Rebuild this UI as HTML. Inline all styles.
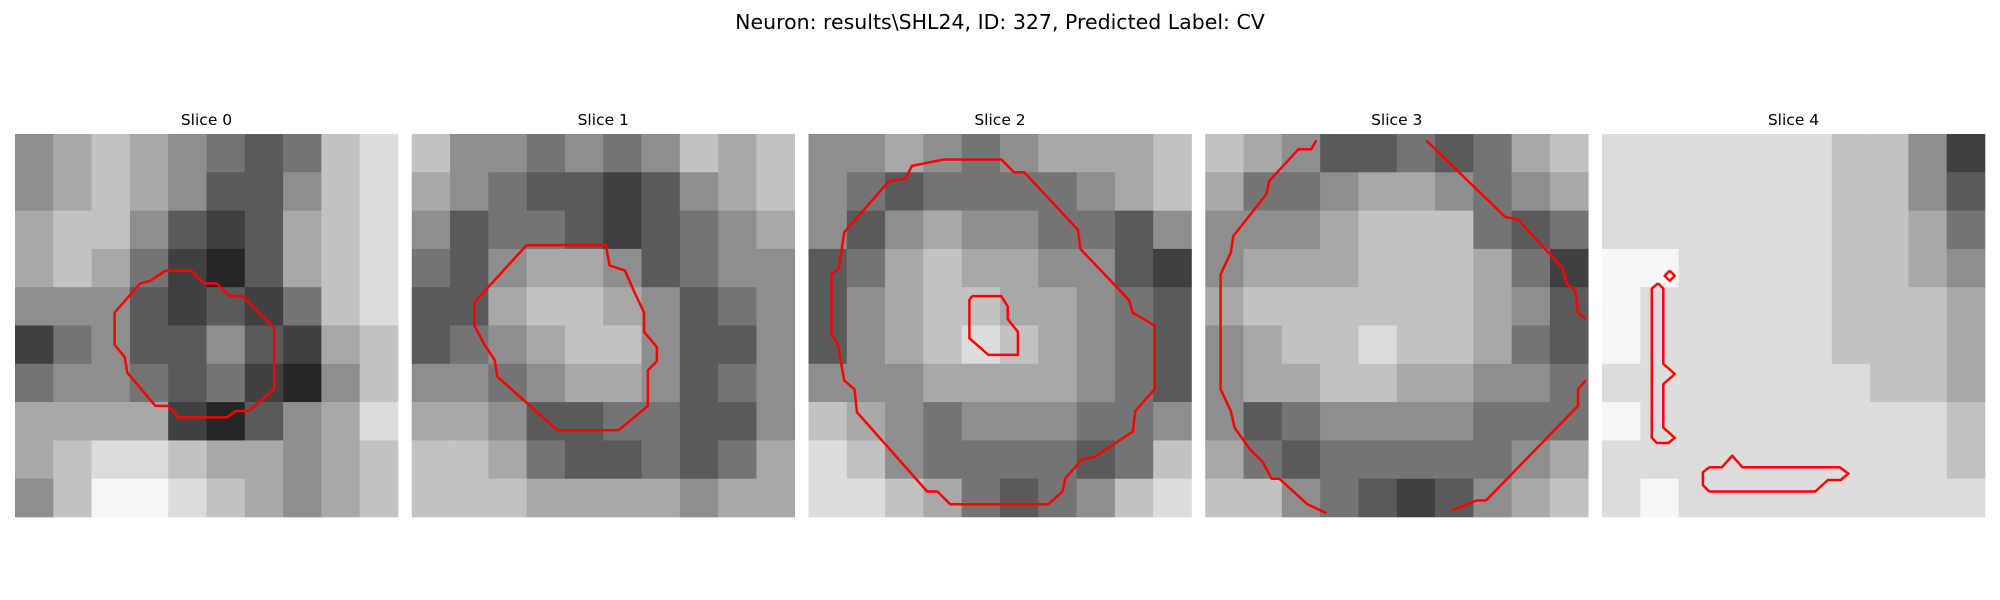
<!DOCTYPE html>
<html><head><meta charset="utf-8"><style>
html,body{margin:0;padding:0;background:#fff;}
svg{display:block;font-family:"DejaVu Sans","Liberation Sans",sans-serif;}
</style></head><body>
<svg id="chart" width="2000" height="600" viewBox="0 0 2000 600">
<text x="1000" y="29" text-anchor="middle" font-size="20.5" fill="#000">Neuron: results\SHL24, ID: 327, Predicted Label: CV</text>
</svg>
<script>
const sliceTitles = ["Slice 0","Slice 1","Slice 2","Slice 3","Slice 4"];
// brightness grids (0 dark - 9 light), 10x10 per slice
const slice0 = ["5676543478","5676533578","6775323678","6764213678","5553232478","2453353267","4554342157","6666213568","6788766567","5799876567"];
const slice1 = ["7554545767","6543323567","5344323456","4356653455","3367765345","3456775335","5545665345","6653344335","7764334346","7776666566"];
const slice2 = ["5565456667","5434444567","5356554435","3467665532","3567766543","3567876543","5556666543","7654555445","8754444347","8876434578"];
const slice3 = ["7653343467","6445665456","5556777434","5666777642","6777777653","5677877643","5667766554","5345555444","6434444456","7754323567"];
const slice4 = ["8888887752","8888887753","8888887764","9988887765","9888887776","9888887776","8888888776","9888888887","8888888887","8988888888"];
const grids = [slice0, slice1, slice2, slice3, slice4];
// contours in cell units (0..30), per slice
const contours0 = [[[11.8,10.7],[13.8,10.7],[14.8,11.7],[15.8,11.7],[16.8,12.7],[17.8,12.7],[20.3,15.2],[20.3,20],[18.3,21.7],[17.3,21.7],[16.6,22.2],[12.8,22.2],[12,21.3],[11,21.3],[8.8,18.7],[8.6,17.5],[7.8,16.5],[7.8,14],[9.8,11.7],[10.6,11.5],[11.8,10.7]]];
const contours1 = [[[9,8.7],[15.2,8.7],[15.5,10.3],[16.7,10.7],[17.4,12.3],[18.2,14],[18.2,15.5],[19.2,16.7],[19.2,17.8],[18.5,18.5],[18.5,21.3],[16.2,23.2],[11.4,23.2],[6.7,19],[6.5,17.7],[5.7,16.5],[4.9,15],[4.9,13.2],[9,8.7]]];
const contours2 = [[[10.6,2],[15.1,2],[16.1,3],[16.9,3],[21.1,7.5],[21.3,9],[25.1,13],[25.4,14],[27.1,15],[27.1,20],[25.6,21.7],[25.4,23.3],[22.4,25.3],[21.4,25.5],[20.1,27],[19.9,28],[18.8,29],[11.1,29],[10.1,28],[9.3,28],[3.8,21.8],[3.6,20],[2.8,19.3],[2.3,16.5],[1.8,15.7],[1.8,11],[2.4,10.5],[2.8,7.7],[6.3,3.7],[7.6,3.5],[8.1,2.5],[10.6,2]],
 [[12.8,12.7],[15.1,12.7],[15.6,13.5],[15.6,14.5],[16.4,15.5],[16.4,17.3],[14.1,17.3],[12.6,16],[12.6,13],[12.8,12.7]]];
const contours3 = [[[8.7,0.5],[8.3,1.2],[7.3,1.2],[5,3.7],[4.8,4.7],[2.2,8],[2,9.3],[1.2,11],[1.2,20],[2,21.7],[2.3,23],[3.5,24.7],[4.5,25.7],[5.2,27],[5.8,27],[8,29],[9.5,29.7]],
 [[17.3,0.5],[23.5,6.5],[24.5,6.7],[28,10.5],[28.3,11.7],[29,12.3],[29.2,14],[29.8,14.5]],
 [[29.8,19.3],[29.2,20],[29.2,21.3],[22,28.7],[21.3,28.7],[19.3,29.5]]];
const contours4 = [[[5.3,10.7],[5.7,11.1],[5.3,11.5],[4.9,11.1],[5.3,10.7]],
 [[4.4,11.7],[4.8,12.1],[4.8,18],[5.7,18.8],[4.8,19.6],[4.8,23],[5.7,23.8],[5.2,24.2],[4.3,24.2],[3.9,23.8],[3.9,12.1],[4.4,11.7]],
 [[8.4,26.1],[9.4,26.1],[10.2,25.2],[11,26.1],[18.6,26.1],[19.3,26.6],[18.7,27.1],[17.7,27.1],[16.7,28],[8.4,28],[7.9,27.5],[7.9,26.5],[8.4,26.1]]];
const allContours = [contours0, contours1, contours2, contours3, contours4];

const NS = "http://www.w3.org/2000/svg";
const svg = document.getElementById("chart");
const panelX0 = 15, panelStep = 396.75, panelY0 = 134, panelSize = 383, units = 30;
function sx(i, u){ return panelX0 + i*panelStep + u*panelSize/units; }
function sy(u){ return panelY0 + u*panelSize/units; }
function gray(b){ const v = Math.round(12 + b*26); return `rgb(${v},${v},${v})`; }

grids.forEach((grid, i) => {
  const g = document.createElementNS(NS, "g");
  
  
  svg.appendChild(g);
  const t = document.createElementNS(NS, "text");
  t.setAttribute("x", sx(i, units/2)); t.setAttribute("y", 125);
  t.setAttribute("text-anchor", "middle"); t.setAttribute("font-size", "15.5");
  t.textContent = sliceTitles[i];
  
  
  g.appendChild(t);
  const n = grid.length, cu = units / n;
  grid.forEach((row, r) => {
    for (let c = 0; c < row.length; c++) {
      const rect = document.createElementNS(NS, "rect");
      const x0 = sx(i, c*cu), y0 = sy(r*cu);
      rect.setAttribute("x", x0); rect.setAttribute("y", y0);
      rect.setAttribute("width", sx(i, (c+1)*cu) - x0 + 0.3);
      rect.setAttribute("height", sy((r+1)*cu) - y0 + 0.3);
      rect.setAttribute("fill", gray(+row[c]));
      
      
      g.appendChild(rect);
    }
  });
  allContours[i].forEach((pts) => {
    const pl = document.createElementNS(NS, "polyline");
    pl.setAttribute("points", pts.map(p => sx(i, p[0]).toFixed(1) + "," + sy(p[1]).toFixed(1)).join(" "));
    pl.setAttribute("fill", "none"); pl.setAttribute("stroke", "#ff0000");
    pl.setAttribute("stroke-width", "2.5"); pl.setAttribute("stroke-linejoin", "round");
    
    
    g.appendChild(pl);
  });
});
</script>
</body></html>
